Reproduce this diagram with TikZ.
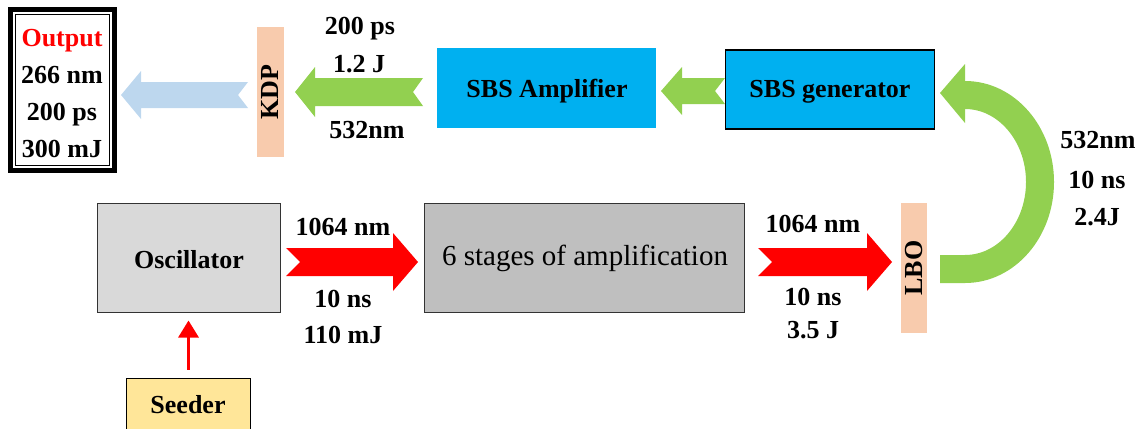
\documentclass[tikz,border=0pt]{standalone}
\usepackage{fontspec}
\setmainfont{Liberation Serif}
\usetikzlibrary{arrows.meta}
\definecolor{grn}{HTML}{92D050}
\definecolor{sbsblue}{HTML}{00B0F0}
\definecolor{ltblue}{HTML}{BDD7EE}
\definecolor{peach}{HTML}{F8CBAD}
\definecolor{oscgray}{HTML}{D9D9D9}
\definecolor{ampgray}{HTML}{BFBFBF}
\definecolor{seedyel}{HTML}{FFE699}
\definecolor{arrred}{HTML}{FF0000}
% color, tip, base, tail, cy, head half, shaft half, notch
\newcommand\blockleft[8]{\fill[#1] (#2,#5) -- (#3,#5-#6) -- (#3,#5-#7) -- (#4,#5-#7) -- (#4-#8,#5) -- (#4,#5+#7) -- (#3,#5+#7) -- (#3,#5+#6) -- cycle;}
% color, tail, base, tip, cy, head half, shaft half, notch
\newcommand\blockright[8]{\fill[#1] (#2,#5-#7) -- (#3,#5-#7) -- (#3,#5-#6) -- (#4,#5) -- (#3,#5+#6) -- (#3,#5+#7) -- (#2,#5+#7) -- (#2+#8,#5) -- cycle;}
\tikzset{
  lbl/.style={font=\fontsize{26}{30}\selectfont\bfseries, inner sep=0pt, anchor=base},
  boxb/.style={inner sep=0pt, font=\fontsize{26}{30}\selectfont\bfseries},
  crystal/.style={fill=peach, inner sep=0pt, font=\fontsize{26}{30}\selectfont\bfseries}
}
\begin{document}
\begin{tikzpicture}[x=1pt,y=-1pt]
\useasboundingbox (0,0) rectangle (1147,428);
% Output box
\draw[line width=5pt] (10.5,9.5) rectangle (114.5,170.5);
\draw[line width=1pt] (15.5,14.5) rectangle (109.5,165.5);
\node[lbl, text=red] (o1) at (62,47) {Output};
\node[lbl] (o2) at (62,83) {266 nm};
\node[lbl] (o3) at (62,120) {200 ps};
\node[lbl] (o4) at (62,157) {300 mJ};
% KDP
\node[crystal, minimum width=27pt, minimum height=130pt] (kdp) at (270,92) {};
\node[boxb, rotate=90] (kdptxt) at (kdp.center) {KDP};
% light blue output arrow
\blockleft{ltblue}{121}{141}{248}{95}{24}{13}{10}
% green arrow to KDP
\blockleft{grn}{295}{315}{423}{92}{25}{14}{10}
\node[lbl] (l1) at (360,35) {200 ps};
\node[lbl] (l2) at (359,72) {1.2 J};
\node[lbl] (l3) at (367,138) {532nm};
% SBS amplifier
\node[boxb, fill=sbsblue, minimum width=219pt, minimum height=80pt] (amp) at (546.5,88) {};
\node[lbl] (amptxt) at (547,97) {SBS Amplifier};
% green arrow between SBS boxes
\blockleft{grn}{661}{682}{725}{91}{24}{13}{10}
% SBS generator
\node[boxb, fill=sbsblue, draw=black, line width=1.5pt, minimum width=209pt, minimum height=79pt] (gen) at (830,89.5) {};
\node[lbl] (gentxt) at (830,97) {SBS generator};
% curved green arrow
\draw[grn, line width=28pt] (940,269) -- (965,269) arc[start angle=-90, end angle=90, x radius=75pt, y radius=87pt] -- (966,95);
\fill[grn] (940,93) -- (965,64) -- (965,123) -- cycle;
\node[lbl] (r1) at (1098,148) {532nm};
\node[lbl] (r2) at (1097,188) {10 ns};
\node[lbl] (r3) at (1097,225) {2.4J};
% Oscillator
\node[boxb, fill=oscgray, draw=black!80, line width=1pt, minimum width=183pt, minimum height=109pt] (osc) at (188.5,257.5) {};
\node[lbl] (osctxt) at (189,268) {Oscillator};
% red arrow 1
\blockright{arrred}{286}{393}{418}{262}{29}{14}{14}
\node[lbl] (a1) at (343,235) {1064 nm};
\node[lbl] (a2) at (343,307) {10 ns};
\node[lbl] (a3) at (343,343) {110 mJ};
% 6 stages
\node[boxb, fill=ampgray, draw=black!80, line width=1pt, minimum width=320pt, minimum height=109pt] (stages) at (584,257.5) {};
\node[inner sep=0pt, anchor=base, font=\fontsize{29}{33}\selectfont] (stagestxt) at (585,265) {6 stages of amplification};
% red arrow 2
\blockright{arrred}{758}{867}{892}{262}{29}{14}{14}
\node[lbl] (b1) at (813,232) {1064 nm};
\node[lbl] (b2) at (813,305) {10 ns};
\node[lbl] (b3) at (813,338) {3.5 J};
% LBO
\node[crystal, minimum width=26pt, minimum height=130pt] (lbo) at (914,268) {};
\node[boxb, rotate=90] (lbotxt) at (lbo.center) {LBO};
% Seeder
\node[boxb, fill=seedyel, draw=black, line width=1pt, minimum width=124pt, minimum height=52pt] (seed) at (188,404) {};
\node[lbl] (seedtxt) at (188,413) {Seeder};
\draw[arrred, line width=3pt, -{Triangle[length=17pt,width=20pt]}, shorten <=8pt, shorten >=8pt] (seed.north -| osc.south) -- (osc.south);
\end{tikzpicture}
\end{document}
